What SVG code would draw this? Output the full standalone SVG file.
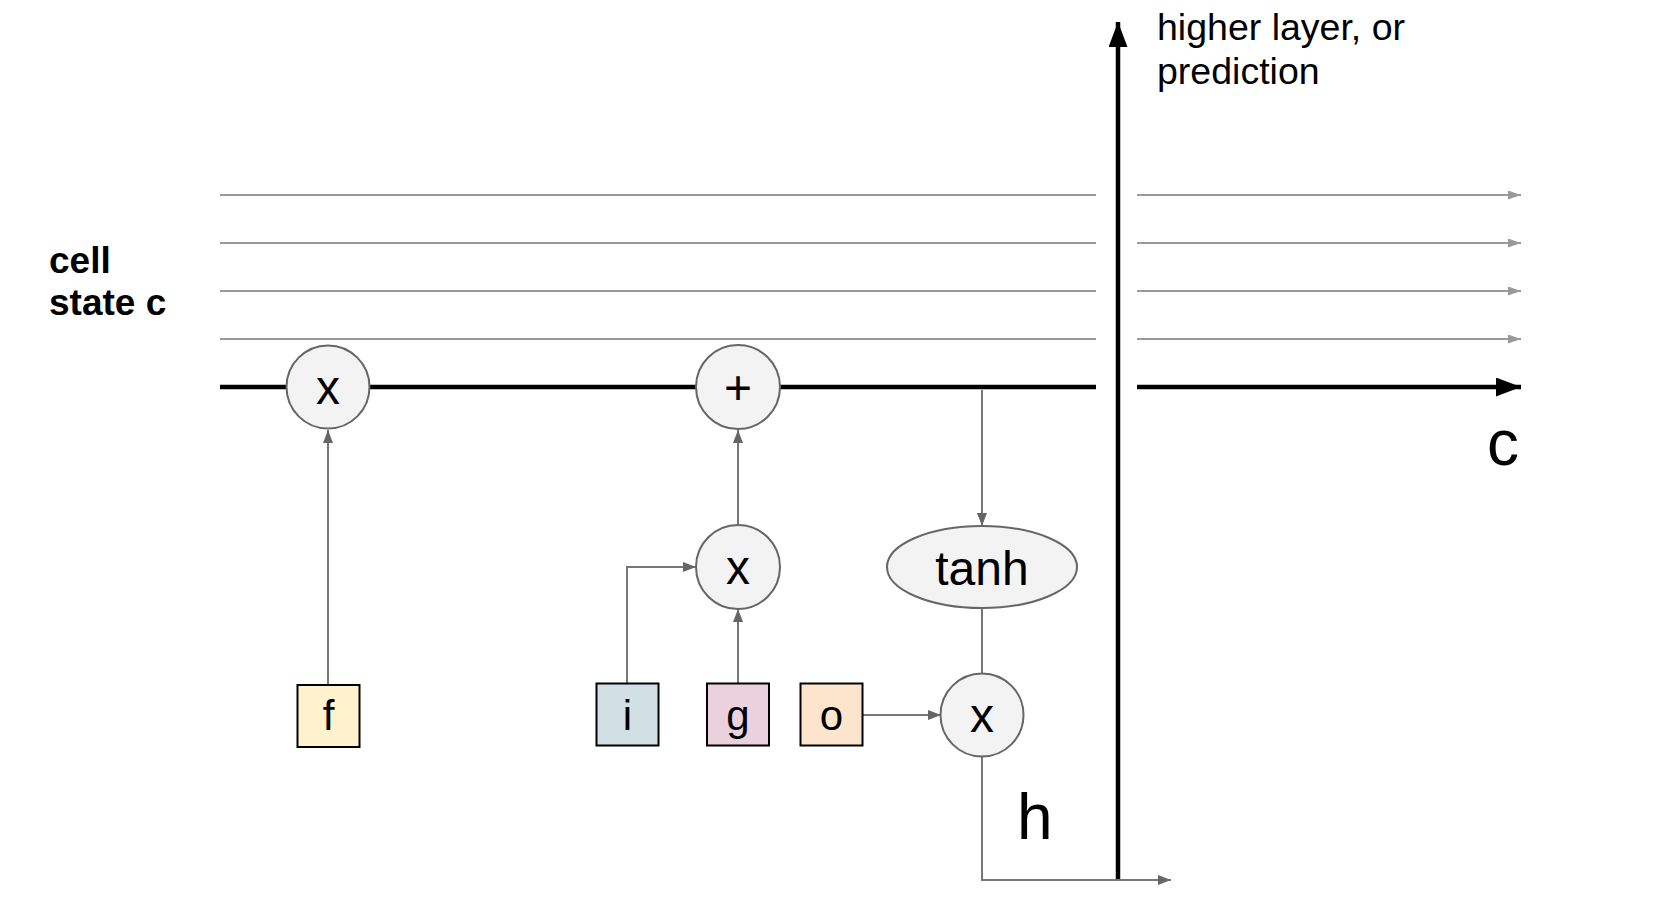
<svg xmlns="http://www.w3.org/2000/svg" width="1666" height="910" viewBox="0 0 1666 910">
  <style>
    .txt { font-family: "Liberation Sans", Arial, sans-serif; fill: #000; }
    .op { fill: #f3f3f3; stroke: #666; stroke-width: 2; }
    .box { stroke: #000; stroke-width: 2; }
    .conn { fill: none; stroke: #777; stroke-width: 2; }
    .lane { stroke: #999; stroke-width: 2; }
    .thick { stroke: #000; stroke-width: 4.5; fill: none; }
  </style>
  <defs>
    <marker id="ag" markerUnits="userSpaceOnUse" markerWidth="14" markerHeight="12" refX="13" refY="5" orient="auto">
      <path d="M0,0 L13,5 L0,10 z" fill="#666"/>
    </marker>
    <marker id="al" markerUnits="userSpaceOnUse" markerWidth="14" markerHeight="10" refX="13" refY="4.5" orient="auto">
      <path d="M0,0 L13,4.5 L0,9 z" fill="#999"/>
    </marker>
    <marker id="ab" markerUnits="userSpaceOnUse" markerWidth="26" markerHeight="20" refX="25" refY="9.5" orient="auto">
      <path d="M0,0 L25,9.5 L0,19 z" fill="#000"/>
    </marker>
  </defs>

  <g id="connectors">
    <line class="lane" x1="220" y1="195" x2="1096" y2="195"/>
    <line class="lane" x1="220" y1="243" x2="1096" y2="243"/>
    <line class="lane" x1="220" y1="291" x2="1096" y2="291"/>
    <line class="lane" x1="220" y1="339" x2="1096" y2="339"/>
    <line class="lane" x1="1137" y1="195" x2="1521" y2="195" marker-end="url(#al)"/>
    <line class="lane" x1="1137" y1="243" x2="1521" y2="243" marker-end="url(#al)"/>
    <line class="lane" x1="1137" y1="291" x2="1521" y2="291" marker-end="url(#al)"/>
    <line class="lane" x1="1137" y1="339" x2="1521" y2="339" marker-end="url(#al)"/>
    <line class="thick" x1="220" y1="387" x2="1096" y2="387"/>
    <line class="thick" x1="1137" y1="387" x2="1521" y2="387" marker-end="url(#ab)"/>
    <line class="thick" x1="1118" y1="881" x2="1118" y2="22" marker-end="url(#ab)"/>
    <line class="conn" x1="328" y1="685" x2="328" y2="430" marker-end="url(#ag)"/>
    <line class="conn" x1="738" y1="525" x2="738" y2="430" marker-end="url(#ag)"/>
    <polyline class="conn" points="627,683 627,567 696,567" marker-end="url(#ag)"/>
    <line class="conn" x1="738" y1="683" x2="738" y2="609" marker-end="url(#ag)"/>
    <line class="conn" x1="982" y1="390" x2="982" y2="526" marker-end="url(#ag)"/>
    <line class="conn" x1="982" y1="608" x2="982" y2="673"/>
    <line class="conn" x1="863" y1="715" x2="941" y2="715" marker-end="url(#ag)"/>
    <polyline class="conn" points="982,757 982,880 1171,880" marker-end="url(#ag)"/>
  </g>

  <g id="mul_f">
    <circle class="op" cx="328" cy="387" r="41.5"/>
    <text class="txt" x="328" y="404" font-size="48" text-anchor="middle">x</text>
  </g>
  <g id="add">
    <circle class="op" cx="738" cy="387" r="42"/>
    <text class="txt" x="738" y="404" font-size="48" text-anchor="middle">+</text>
  </g>
  <g id="mul_ig">
    <circle class="op" cx="738" cy="567" r="42"/>
    <text class="txt" x="738" y="584" font-size="48" text-anchor="middle">x</text>
  </g>
  <g id="tanh">
    <ellipse class="op" cx="982" cy="567" rx="95" ry="41"/>
    <text class="txt" x="982" y="585" font-size="48" text-anchor="middle">tanh</text>
  </g>
  <g id="mul_o">
    <circle class="op" cx="982" cy="715" r="41.5"/>
    <text class="txt" x="982" y="732" font-size="48" text-anchor="middle">x</text>
  </g>

  <g id="gate_f">
    <rect class="box" x="297.5" y="685" width="62" height="62" fill="#fff2cc"/>
    <text class="txt" x="328.5" y="730" font-size="42" text-anchor="middle">f</text>
  </g>
  <g id="gate_i">
    <rect class="box" x="596.5" y="683.5" width="62" height="62" fill="#d0e0e3"/>
    <text class="txt" x="627.5" y="729.5" font-size="42" text-anchor="middle">i</text>
  </g>
  <g id="gate_g">
    <rect class="box" x="707" y="683.5" width="62" height="62" fill="#ead1dc"/>
    <text class="txt" x="738" y="729.5" font-size="42" text-anchor="middle">g</text>
  </g>
  <g id="gate_o">
    <rect class="box" x="800.5" y="683.5" width="62" height="62" fill="#fce5cd"/>
    <text class="txt" x="831.5" y="729.5" font-size="42" text-anchor="middle">o</text>
  </g>

  <g id="labels">
    <text class="txt" x="49" y="273" font-size="37" font-weight="bold">cell</text>
    <text class="txt" x="49" y="315" font-size="37" font-weight="bold">state c</text>
    <text class="txt" x="1157" y="40" font-size="37.5">higher layer, or</text>
    <text class="txt" x="1157" y="84" font-size="37.5">prediction</text>
    <text class="txt" x="1487" y="465" font-size="64">c</text>
    <text class="txt" x="1017" y="839" font-size="64">h</text>
  </g>
</svg>
